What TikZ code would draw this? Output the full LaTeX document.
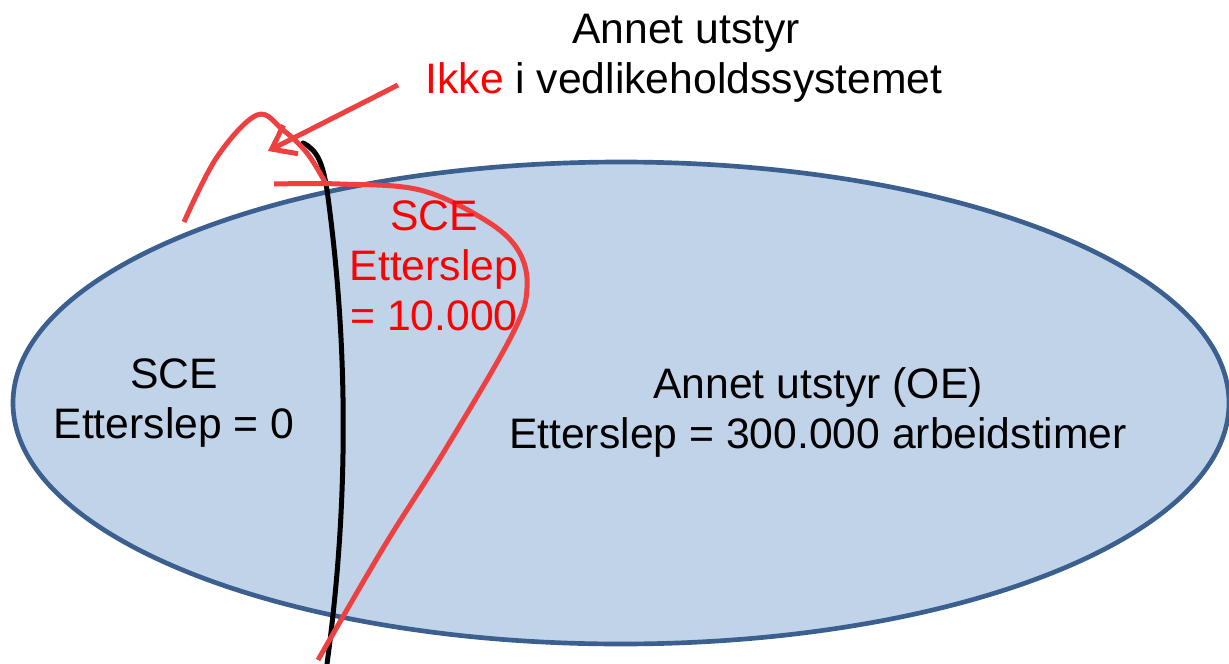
\documentclass[tikz,border=0pt]{standalone}
\usepackage{fontspec}
\setmainfont{Liberation Sans}
\usepackage{xcolor}
\usetikzlibrary{arrows.meta}
\definecolor{vfill}{HTML}{C0D3E8}
\definecolor{vedge}{HTML}{3B5F8E}
\definecolor{vred}{HTML}{EE4040}
\definecolor{vtext}{HTML}{FF0000}

\begin{document}
\begin{tikzpicture}[x=0.75pt, y=-0.75pt,
	lbl/.style={align=center, anchor=base, inner sep=0pt, font=\fontsize{32}{37.5}\selectfont}]
		\useasboundingbox (0,0) rectangle (1229,664);
		% ellipse-oe
		\draw[line width=3.5pt, draw=vedge, fill=vfill] (621,403) ellipse (608 and 241);
		% border-sce
		\draw[line width=3.75pt, draw=black, line cap=round] (303,143) .. controls (318,150) and (323,165) .. (327,190) .. controls (345,320) and (352,480) .. (327,664);
		% red-outline
		\draw[line width=3.75pt, draw=vred] plot[smooth, tension=0.6] coordinates {(184,222) (217,157) (257,115) (283,130) (307,153) (325,182)};
		\draw[line width=3.75pt, draw=vred] plot[smooth, tension=0.6] coordinates {(274,184) (340,184) (420,190) (485,220) (518,250) (527,288) (512,335) (445,450) (385,545) (318,660)};
		% labels (base = last line)
		\node[lbl] (hdr) at (686,43) {Annet utstyr};
		\node[lbl] (ikke) at (684,93) {{\color{vtext}Ikke} i vedlikeholdssystemet};
		\node[lbl, text=vtext] (scered) at (434,330) {SCE\\Etterslep\\= 10.000};
		\node[lbl] (sce) at (174,438) {SCE\\Etterslep = 0};
		\node[lbl] (oe) at (818,448) {Annet utstyr (OE)\\Etterslep = 300.000 arbeidstimer};
		% arrow
		\coordinate (tail) at (398,85);
		\coordinate (tip) at (268,151);
		\draw[line width=3.75pt, draw=vred, -{Straight Barb[length=16pt, width=24pt]}] (tail) -- (tip);
	\end{tikzpicture}
\end{document}
